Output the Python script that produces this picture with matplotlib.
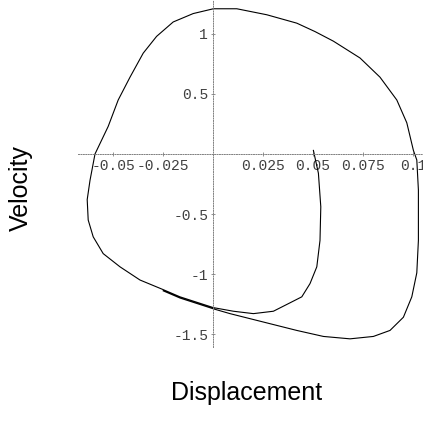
import matplotlib
matplotlib.use("Agg")
import matplotlib.pyplot as plt

# trajectory: starts at (0.05, 0), drops into the inner
# loop, then runs round the outer limit cycle
displacement = [0.0502, 0.0527, 0.0539, 0.0535, 0.0519, 0.0485, 0.0444, 0.0385,
                0.0302, 0.0202, 0.0102, 0.0002, -0.0165, -0.0249, -0.0365,
                -0.0465, -0.0549, -0.0599, -0.0624, -0.0629, -0.0615, -0.0590,
                -0.0524, -0.0474, -0.0415, -0.0349, -0.0282, -0.0199, -0.0099,
                0.0002, 0.0119, 0.0269, 0.0419, 0.0510, 0.0602, 0.0735, 0.0835,
                0.0919, 0.0969, 0.1002, 0.1019, 0.1027, 0.1027, 0.1019, 0.0994,
                0.0952, 0.0885, 0.0802, 0.0685, 0.0552, 0.0419, 0.0252, 0.0085,
                0.0002, -0.0165, -0.0249]
velocity = [0.03, -0.16, -0.44, -0.72, -0.94, -1.08, -1.19, -1.24,
            -1.31, -1.33, -1.31, -1.28, -1.19, -1.13, -1.05,
            -0.94, -0.83, -0.69, -0.55, -0.38, -0.22, 0.0,
            0.23, 0.45, 0.64, 0.84, 0.98, 1.10, 1.17,
            1.21, 1.21, 1.16, 1.09, 1.02, 0.94, 0.80, 0.64,
            0.45, 0.26, 0.03, -0.05, -0.30, -0.72, -0.99, -1.19,
            -1.36, -1.47, -1.52, -1.54, -1.52, -1.47, -1.40, -1.33,
            -1.29, -1.20, -1.14]

x_ticks = [-0.05, -0.025, 0.025, 0.05, 0.075, 0.1]
x_tick_labels = ["-0.05", "-0.025", "0.025", "0.05", "0.075", "0.1"]
y_ticks = [-1.5, -1, -0.5, 0.5, 1]
y_tick_labels = ["-1.5", "-1", "-0.5", "0.5", "1"]

plt.rcParams['axes.unicode_minus'] = False

fig = plt.figure(figsize=(4.23, 4.24), dpi=100)
ax = fig.add_axes([78 / 423, 1 - 347 / 424, 345 / 423, 347 / 424])

ax.plot(displacement, velocity, color='black', lw=0.8,
        solid_joinstyle='round')

ax.set_xlim(-0.0675, 0.105)
ax.set_ylim(-1.608, 1.283)

for side in ['top', 'right']:
    ax.spines[side].set_visible(False)
for side in ['left', 'bottom']:
    ax.spines[side].set_position(('data', 0))
    ax.spines[side].set_linestyle((0, (1, 1.5)))
    ax.spines[side].set_color('0.5')
    ax.spines[side].set_linewidth(0.7)

ax.set_xticks(x_ticks)
ax.set_xticklabels(x_tick_labels)
ax.set_yticks(y_ticks)
ax.set_yticklabels(y_tick_labels)
ax.tick_params(direction='inout', length=3, width=0.6, color='0.5',
               labelsize=10.5, pad=2)
for lab in ax.get_xticklabels() + ax.get_yticklabels():
    lab.set_family('Liberation Mono')
    lab.set_color('0.25')

fig.text(21 / 423, 1 - 188 / 424, "Velocity", rotation=90, fontsize=18,
         family='Liberation Sans', ha='center', va='center')
fig.text(247 / 423, 1 - 393 / 424, "Displacement", fontsize=18,
         family='Liberation Sans', ha='center', va='center')

fig.savefig("out.png", dpi=100)
